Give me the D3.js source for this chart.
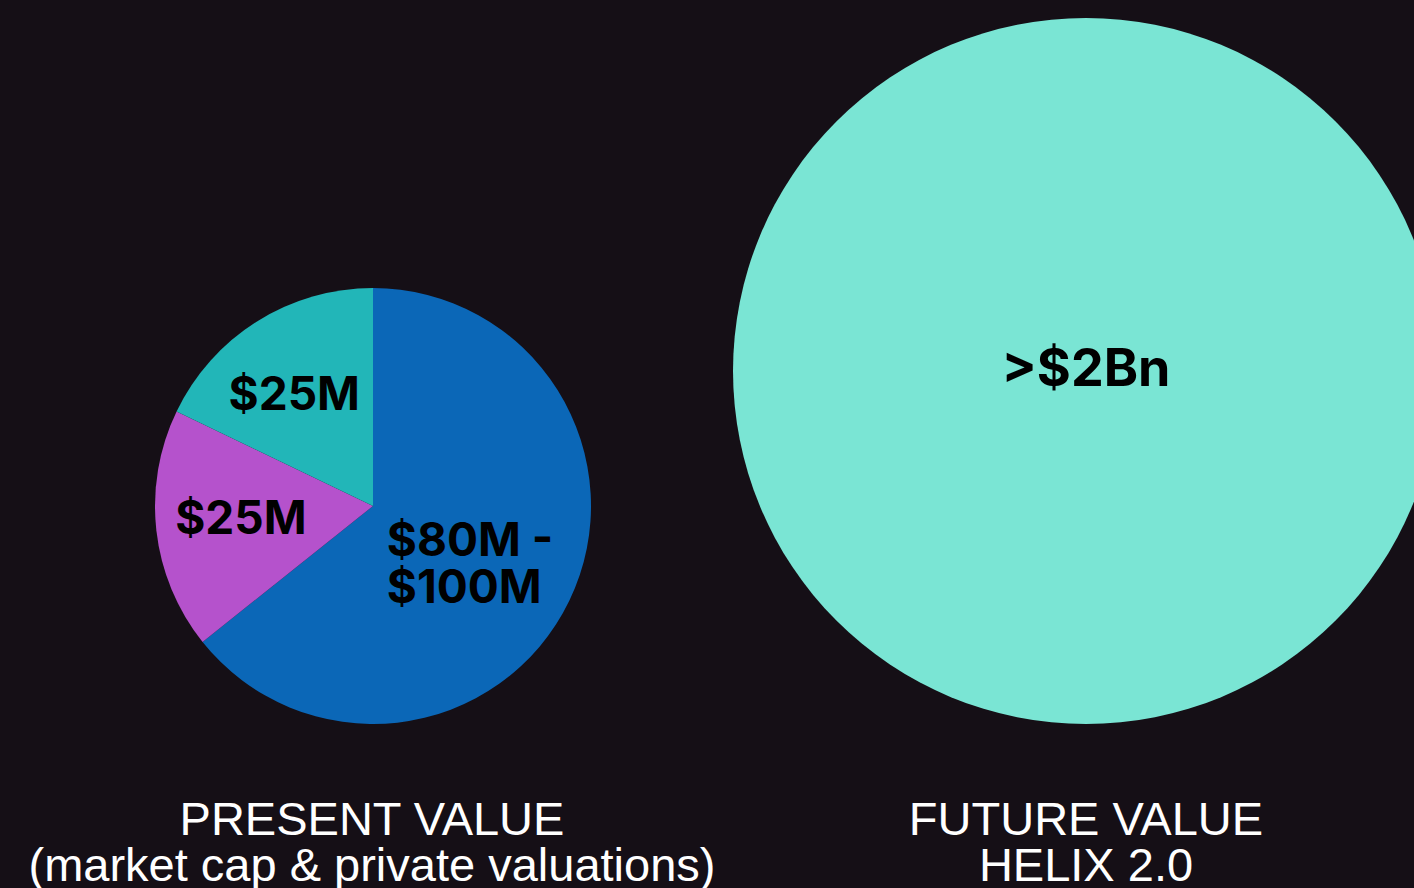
<!DOCTYPE html>
<html>
<head>
<meta charset="utf-8">
<script src="https://cdn.jsdelivr.net/npm/d3@7"></script>
<style>
  html, body { margin: 0; padding: 0; background: #150f16; overflow: hidden; }
  svg { display: block; }
  .slice-label { font-family: Inter, "Liberation Sans", sans-serif; font-weight: 700; fill: #000; }
  .title { font-family: "Liberation Sans", Arial, sans-serif; fill: #fff; }
</style>
</head>
<body>
<div id="chart"></div>
<script>
// DATA
const presentLabels = ['$80M - $100M', '$25M', '$25M'];
const presentValues = [90, 25, 25];
const presentColors = ['#0b67b7', '#b552cc', '#22b6b8'];
const futureLabels = ['>$2Bn'];
const futureValues = [2000];
const futureColors = ['#7ae5d4'];
const presentTitle = ['PRESENT VALUE', '(market cap & private valuations)'];
const futureTitle = ['FUTURE VALUE', 'HELIX 2.0'];

document.addEventListener('DOMContentLoaded', function(){
  drawChart();
});

function drawChart() {
  const width = 1414, height = 888;
  const svg = d3.select('#chart').append('svg')
    .attr('width', width)
    .attr('height', height);

  svg.append('rect').attr('width', width).attr('height', height).attr('fill', '#150f16');

  const pie = d3.pie().sort(null);

  const presentR = 218;
  const futureR = 353;

  // LEFT PIE
  const left = svg.append('g').attr('transform', 'translate(373,506)');
  const arcL = d3.arc().innerRadius(0).outerRadius(presentR);
  const labelArc = d3.arc().innerRadius(133).outerRadius(133);
  const slices = pie(presentValues);

  left.selectAll('path')
    .data(slices)
    .enter().append('path')
    .attr('d', arcL)
    .attr('fill', function(d, i){ return presentColors[i]; });

  // little nudges so labels sit like the original
  const nudge = [[-106, -8], [0, 13], [-8, 17]];
  slices.forEach(function(d, i) {
    let c = labelArc.centroid(d);
    let x = c[0] + nudge[i][0], y = c[1] + nudge[i][1];
    let t = left.append('text').attr('class', 'slice-label').style('font-size', '46px');
    if (i === 0) {
      let parts = presentLabels[i].split(' - ');
      t.attr('text-anchor', 'start');
      t.append('tspan').attr('x', x).attr('y', y).text(parts[0] + ' -');
      t.append('tspan').attr('x', x).attr('y', y + 47).text(parts[1]);
    } else {
      t.attr('text-anchor', 'middle')
        .attr('x', x).attr('y', y)
        .text(presentLabels[i]);
    }
  });

  // RIGHT CIRCLE
  const right = svg.append('g').attr('transform', 'translate(1086,371)');
  const arcR = d3.arc().innerRadius(0).outerRadius(futureR);
  right.selectAll('path')
    .data(pie(futureValues))
    .enter().append('path')
    .attr('d', arcR)
    .attr('fill', function(d, i){ return futureColors[i]; });
  right.append('text').attr('class', 'slice-label')
    .style('font-size', '52px')
    .attr('text-anchor', 'middle')
    .attr('x', 0).attr('y', 15)
    .text(futureLabels[0]);

  // TITLES
  function addTitle(lines, x) {
    let t = svg.append('text').attr('class', 'title')
      .attr('text-anchor', 'middle')
      .style('font-size', '47px');
    lines.forEach(function(l, i) {
      t.append('tspan').attr('x', x).attr('y', 835 + i * 46).text(l);
    });
  }
  addTitle(presentTitle, 372);
  addTitle(futureTitle, 1086);
}
</script>
</body>
</html>
